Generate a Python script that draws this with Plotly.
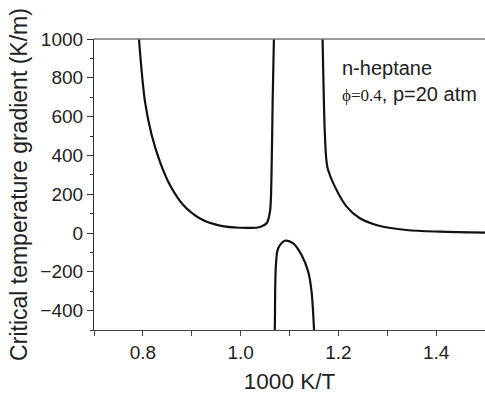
import plotly.graph_objects as go

# Left branch (1000 K/T, K/m)
left_x = [0.792, 0.8043, 0.818, 0.835, 0.8554, 0.8826, 0.9168, 0.9577, 0.9986, 1.0395, 1.0532, 1.060, 1.0634, 1.0655, 1.0681]
left_y = [1000, 677, 505, 367, 247, 144, 75, 38, 27, 31, 50, 110, 333, 677, 1000]

# Right branch
right_x = [1.1677, 1.1724, 1.1758, 1.179, 1.1928, 1.2168, 1.244, 1.2849, 1.3395, 1.4076, 1.5]
right_y = [1000, 505, 367, 325, 239, 136, 76, 36, 15.5, 7, 2]

# Negative island
isl_x = [1.0697, 1.0700, 1.0722, 1.0769, 1.0906, 1.1076, 1.1247, 1.1383, 1.1452, 1.1499, 1.1502]
isl_y = [-500, -483, -165, -79, -40, -53, -113, -200, -303, -483, -500]

x_ticks = [0.8, 1.0, 1.2, 1.4]
x_labels = ["0.8", "1.0", "1.2", "1.4"]
y_ticks = [-400, -200, 0, 200, 400, 600, 800, 1000]

fig = go.Figure()
line = dict(color="#111111", width=2.2, shape="spline", smoothing=0.9)
for xs, ys in [(left_x, left_y), (right_x, right_y), (isl_x, isl_y)]:
    fig.add_trace(go.Scatter(x=xs, y=ys, mode="lines", line=line, showlegend=False,
                             hoverinfo="skip", cliponaxis=True))

font = "Liberation Sans, Arial, sans-serif"
fig.update_layout(
    width=485, height=395,
    margin=dict(l=94, r=0, t=39, b=65),
    plot_bgcolor="white", paper_bgcolor="white",
    font=dict(family=font, color="#222222"),
    xaxis=dict(range=[0.7, 1.5], tickvals=x_ticks, ticktext=x_labels,
               showgrid=False, zeroline=False, showline=True, linecolor="#444444", linewidth=1.2,
               ticks="outside", ticklen=5, tickcolor="#444444", tickfont=dict(size=19, family=font),
               minor=dict(dtick=0.1, ticks="outside", ticklen=5, tickcolor="#444444"),
               title=dict(text="1000 K/T", font=dict(size=22.5, family=font), standoff=11)),
    yaxis=dict(range=[-500, 1000], tickvals=y_ticks,
               showgrid=False, zeroline=False, showline=True, linecolor="#333333", linewidth=1.2,
               ticks="outside", ticklen=6, tickcolor="#333333", tickfont=dict(size=19, family=font),
               minor=dict(dtick=100, ticks="outside", ticklen=3, tickcolor="#333333"),
               title=dict(text="Critical temperature gradient (K/m)", font=dict(size=23, family=font), standoff=6)),
)
fig.add_shape(type="line", xref="paper", yref="paper", x0=0, x1=1, y0=1, y1=1,
              line=dict(color="#777777", width=1.5))
fig.add_annotation(xref="x", yref="paper", x=1.203, y=0.945, xanchor="left", yanchor="top",
                   align="left", showarrow=False,
                   text="n-heptane<br><span style='font-family:Liberation Serif, Times New Roman, serif;font-size:17px'>ϕ=0.4</span>, p=20 atm",
                   font=dict(size=20, family=font, color="#222222"))
fig.write_html("out.html")
